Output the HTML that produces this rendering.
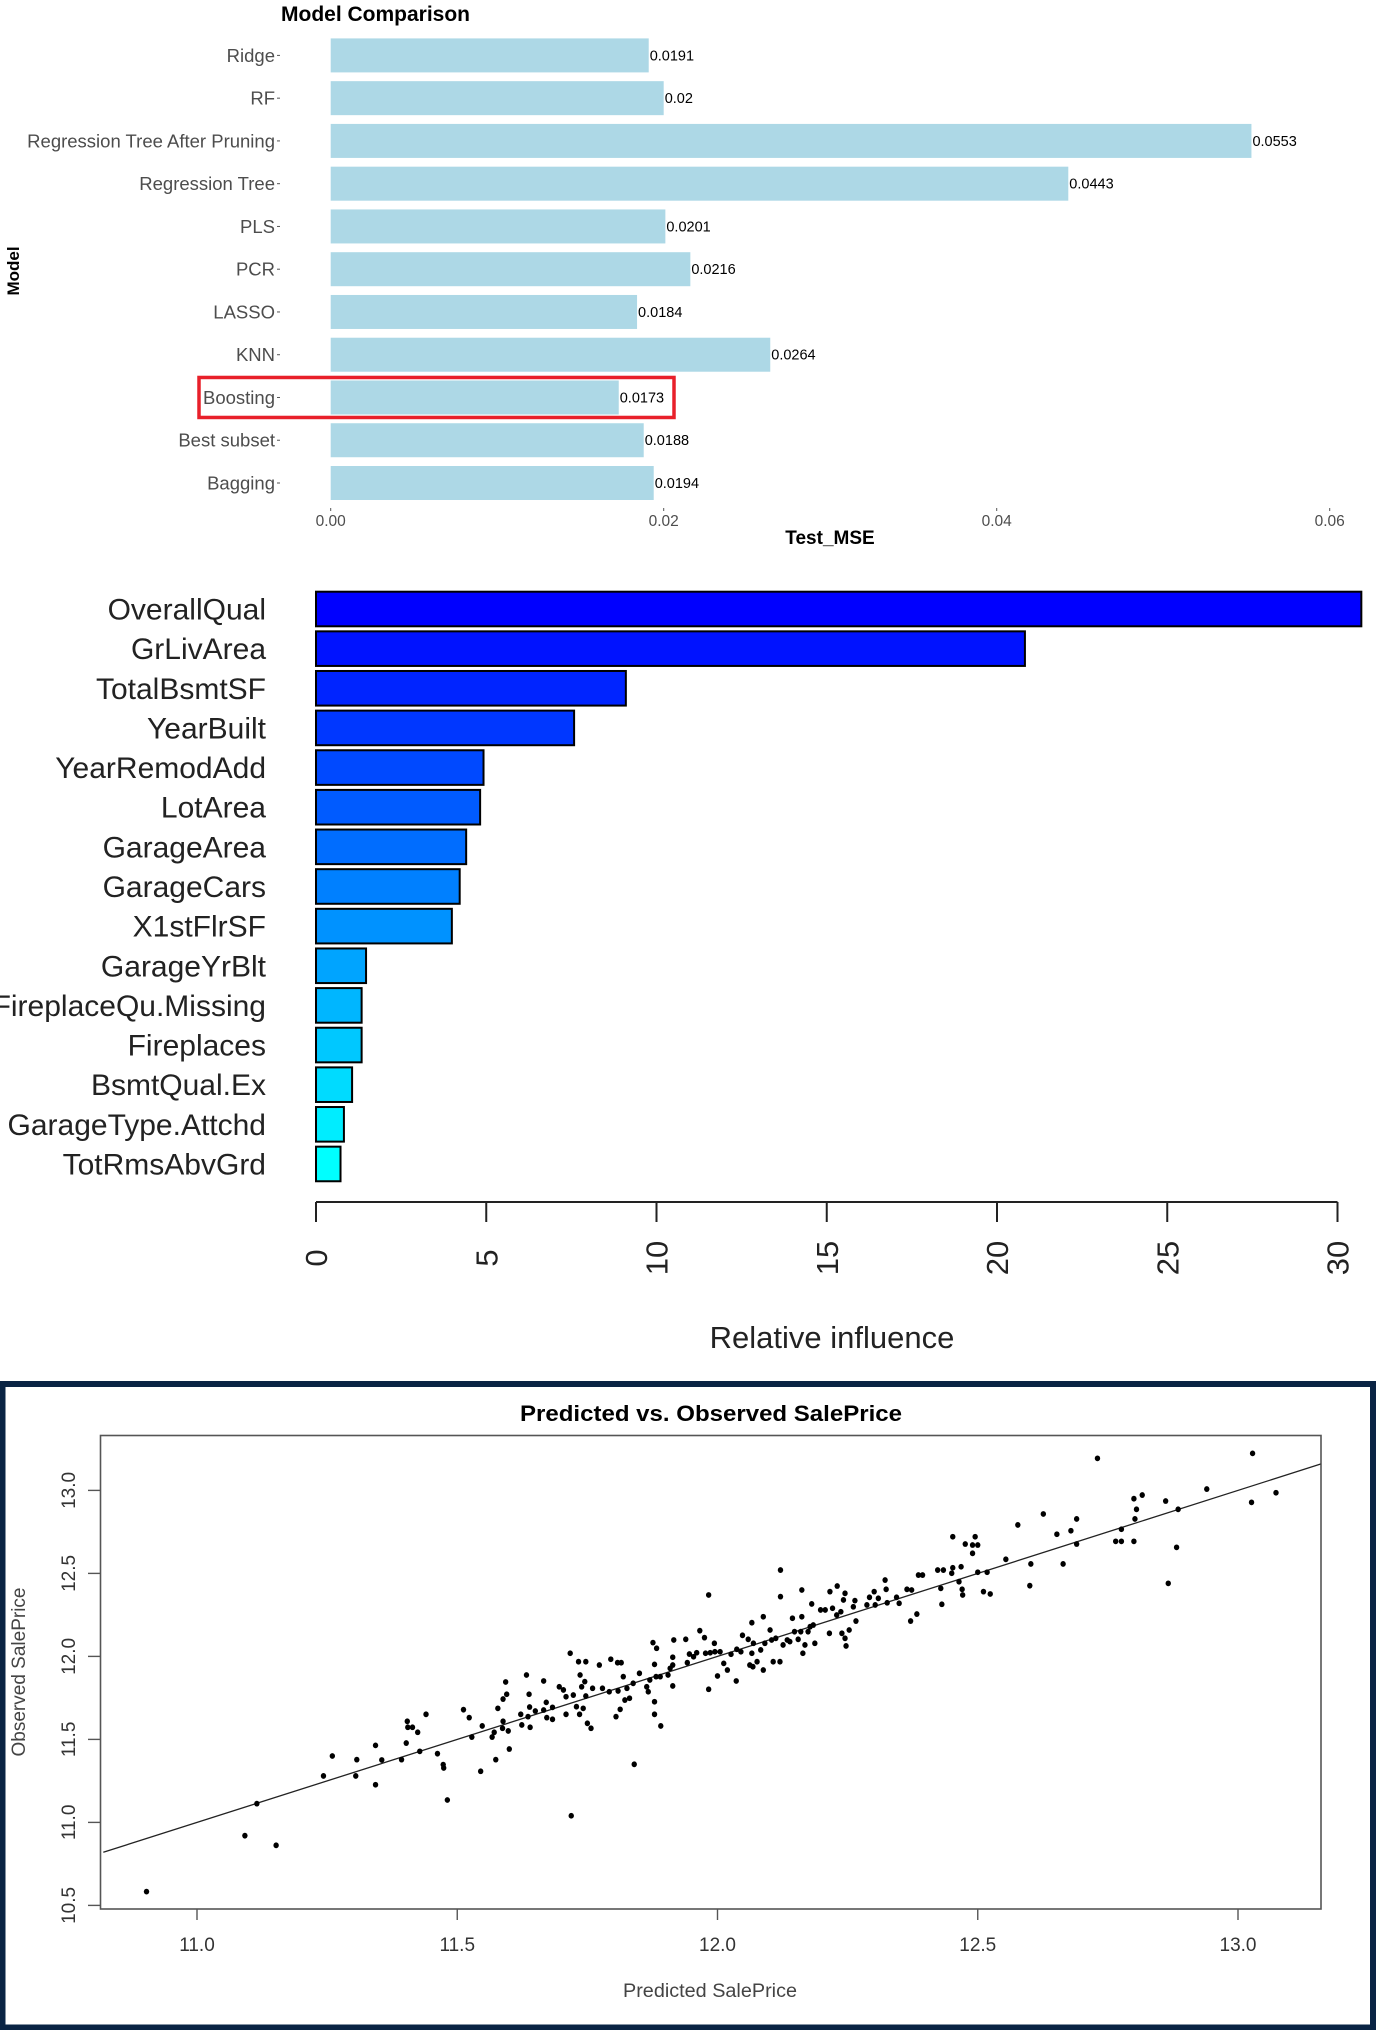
<!DOCTYPE html>
<html><head><meta charset="utf-8"><title>Model results</title>
<style>
html,body{margin:0;padding:0;background:#fff;}
svg{display:block;font-family:"Liberation Sans",Arial,sans-serif;}
</style></head>
<body>
<svg id="root" width="1376" height="2030" viewBox="0 0 1376 2030" xmlns="http://www.w3.org/2000/svg">
  <g id="top">
    <text x="281" y="21" font-size="21" font-weight="bold" fill="#000">Model Comparison</text>
    <text transform="translate(19,271) rotate(-90)" text-anchor="middle" font-size="17" font-weight="bold" fill="#000">Model</text>
    <text x="830" y="544" text-anchor="middle" font-size="19" font-weight="bold" fill="#000">Test_MSE</text>
  </g>
  <g id="mid">
    <text x="832" y="1348" text-anchor="middle" font-size="31" fill="#222">Relative influence</text>
  </g>
  <g id="bot">
    <rect x="2.5" y="1384" width="1370.5" height="643.5" fill="none" stroke="#0a2444" stroke-width="6"/>
    <rect x="100.5" y="1435.5" width="1220.5" height="473.5" fill="none" stroke="#555" stroke-width="1.6"/>
    <text x="711" y="1421" text-anchor="middle" font-size="22" font-weight="bold" fill="#000" textLength="382" lengthAdjust="spacingAndGlyphs">Predicted vs. Observed SalePrice</text>
    <text x="710" y="1997" text-anchor="middle" font-size="19" fill="#444" textLength="174" lengthAdjust="spacingAndGlyphs">Predicted SalePrice</text>
    <text transform="translate(25,1672) rotate(-90)" text-anchor="middle" font-size="19" fill="#444">Observed SalePrice</text>
  </g>
</svg>
<script>
const NS='http://www.w3.org/2000/svg';
// ---------- Chart 1 data ----------
const modelNames=['Ridge','RF','Regression Tree After Pruning','Regression Tree','PLS','PCR','LASSO','KNN','Boosting','Best subset','Bagging'];
const modelMSE=[0.0191,0.02,0.0553,0.0443,0.0201,0.0216,0.0184,0.0264,0.0173,0.0188,0.0194];
const mseLabels=['0.0191','0.02','0.0553','0.0443','0.0201','0.0216','0.0184','0.0264','0.0173','0.0188','0.0194'];
const mseTicks=[0,0.02,0.04,0.06];
const mseTickLabels=['0.00','0.02','0.04','0.06'];
// ---------- Chart 2 data ----------
const featNames=['OverallQual','GrLivArea','TotalBsmtSF','YearBuilt','YearRemodAdd','LotArea','GarageArea','GarageCars','X1stFlrSF','GarageYrBlt','FireplaceQu.Missing','Fireplaces','BsmtQual.Ex','GarageType.Attchd','TotRmsAbvGrd'];
const featInfluence=[30.7,20.82,9.10,7.58,4.92,4.82,4.41,4.22,3.99,1.47,1.34,1.34,1.06,0.82,0.72];
const infTicks=[0,5,10,15,20,25,30];
// ---------- Chart 3 data ----------
const predicted=[10.903,11.092,11.115,11.152,11.243,11.260,11.305,11.307,11.343,11.343,11.355,11.393,11.402,11.404,11.405,11.414,11.424,11.428,11.440,11.462,11.473,11.474,11.481,11.512,11.523,11.528,11.545,11.548,11.567,11.571,11.574,11.578,11.587,11.588,11.588,11.593,11.595,11.598,11.600,11.622,11.624,11.633,11.636,11.638,11.639,11.640,11.650,11.666,11.666,11.671,11.672,11.719,
11.683,11.683,11.696,11.704,11.709,11.709,11.717,11.723,11.729,11.733,11.736,11.735,11.739,11.742,11.745,11.747,11.747,11.750,11.757,11.760,11.773,11.779,11.792,11.795,11.805,11.808,11.809,11.813,11.815,11.819,11.822,11.826,11.831,11.838,11.840,11.850,11.864,11.867,11.870,11.876,11.879,11.879,11.879,11.882,11.883,11.890,11.891,11.905,11.909,11.914,11.914,11.914,11.916,11.939,11.942,11.946,11.954,11.960,11.966,11.975,11.977,11.983,11.983,11.986,11.994,11.995,12.000,12.005,12.012,12.019,12.026,12.036,12.037,12.045,12.048,12.059,12.062,12.066,12.066,12.068,12.069,12.076,12.083,12.088,12.088,12.091,12.101,12.104,12.107,12.112,12.120,12.121,12.121,12.126,12.134,12.139,12.144,12.148,12.155,12.160,12.162,12.162,12.164,12.168,12.174,12.178,12.181,12.184,12.187,12.198,12.207,12.215,12.216,12.221,12.229,12.230,12.237,12.239,12.242,12.245,12.245,12.247,12.253,12.261,12.264,12.266,12.287,12.292,12.301,12.303,12.309,12.322,12.324,12.326,12.344,12.349,12.364,12.371,12.373,12.383,12.386,12.394,12.423,12.429,12.431,12.434,
12.450,12.452,12.452,12.464,12.468,12.470,12.471,12.476,12.490,12.490,12.495,12.500,12.500,12.511,12.518,12.524,12.554,12.577,12.600,12.602,12.626,12.652,12.664,12.679,12.690,12.690,12.730,12.765,12.776,12.776,12.800,12.800,12.802,12.805,12.816,12.861,12.866,12.882,12.885,12.940,13.026,13.028,13.073];
const observed=[10.583,10.920,11.113,10.862,11.280,11.400,11.280,11.378,11.464,11.227,11.376,11.378,11.478,11.609,11.573,11.573,11.543,11.428,11.651,11.414,11.348,11.328,11.135,11.679,11.631,11.514,11.308,11.581,11.514,11.543,11.378,11.687,11.567,11.743,11.609,11.846,11.772,11.551,11.442,11.651,11.587,11.888,11.637,11.772,11.695,11.573,11.671,11.852,11.677,11.723,11.631,11.040,
11.693,11.621,11.817,11.798,11.757,11.651,12.019,11.767,11.697,11.968,11.888,11.651,11.817,11.687,11.848,11.968,11.761,11.597,11.567,11.808,11.948,11.808,11.787,11.983,11.637,11.962,11.792,11.681,11.962,11.878,11.737,11.808,11.748,11.838,11.350,11.898,11.817,11.787,11.858,12.083,11.952,11.727,11.651,11.878,12.049,11.878,11.581,11.888,11.928,11.995,11.948,11.822,12.099,12.103,11.962,12.014,11.998,12.022,12.155,12.113,12.019,12.370,11.802,12.022,12.079,12.028,11.882,12.028,11.958,11.918,12.013,11.852,12.043,12.028,12.127,12.103,11.948,12.203,12.019,11.938,12.079,11.968,12.039,12.239,11.918,12.079,12.159,12.099,11.968,12.109,11.968,12.520,12.360,12.069,12.099,12.089,12.230,12.149,12.103,12.149,12.400,12.239,12.019,12.069,12.149,12.179,12.316,12.189,12.079,12.280,12.280,12.139,12.390,12.290,12.249,12.424,12.269,12.139,12.340,12.380,12.109,12.063,12.159,12.299,12.336,12.213,12.310,12.356,12.390,12.310,12.350,12.460,12.404,12.323,12.356,12.320,12.404,12.213,12.400,12.255,12.490,12.490,12.520,12.410,12.314,12.520,
12.501,12.721,12.534,12.450,12.540,12.404,12.370,12.677,12.671,12.621,12.721,12.671,12.507,12.390,12.507,12.376,12.585,12.792,12.426,12.557,12.858,12.736,12.557,12.757,12.828,12.677,13.193,12.693,12.766,12.693,12.950,12.693,12.828,12.886,12.972,12.936,12.440,12.657,12.886,13.008,12.928,13.223,12.986];
const fitLine=[0.0,1.0]; // intercept, slope
const xTicks=[11.0,11.5,12.0,12.5,13.0];
const xTickLabels=['11.0','11.5','12.0','12.5','13.0'];
const yTicks=[10.5,11.0,11.5,12.0,12.5,13.0];
const yTickLabels=['10.5','11.0','11.5','12.0','12.5','13.0'];

function mk(tag,attrs,parent,text){const e=document.createElementNS(NS,tag);for(const k in attrs)e.setAttribute(k,attrs[k]);if(text!==undefined)e.textContent=text;parent.appendChild(e);return e;}

// ---------- Chart 1 ----------
(function(){
  const g=document.getElementById('top');
  const x=v=>330.7+v*16650;
  const rowY=i=>55.4+i*42.76;
  const bh=34;
  modelNames.forEach((n,i)=>{
    const cy=rowY(i);
    const r=mk('rect',{x:x(0),y:cy-bh/2,width:x(modelMSE[i])-x(0),height:bh,fill:'#add8e6'},g);
    
    
    const l=mk('text',{x:275,y:cy+6.5,'text-anchor':'end','font-size':'18.5',fill:'#4d4d4d'},g,n);
    
    
    const tk=mk('line',{x1:277,x2:280,y1:cy,y2:cy,stroke:'#555','stroke-width':1},g);
    
    
    const v=mk('text',{x:x(modelMSE[i])+1,y:cy+5,'font-size':'14.5',fill:'#000'},g,mseLabels[i]);
    
    
  });
  mseTicks.forEach((t,i)=>{
    const tk=mk('line',{x1:x(t),x2:x(t),y1:508,y2:511,stroke:'#555','stroke-width':1},g);
    
    
    const l=mk('text',{x:x(t),y:526,'text-anchor':'middle','font-size':'15.5',fill:'#4d4d4d'},g,mseTickLabels[i]);
    
    
  });
  const bi=modelNames.indexOf('Boosting');
  const cy=rowY(bi);
  const box=mk('rect',{x:199,y:cy-20,width:475,height:40,fill:'none',stroke:'#e8202a','stroke-width':3.5},g);
  
  
})();

// ---------- Chart 2 ----------
(function(){
  const g=document.getElementById('mid');
  const x=v=>316+v*34.05;
  const rowY=i=>609+i*39.64;
  const bh=34.6;
  const n=featNames.length;
  featNames.forEach((f,i)=>{
    const cy=rowY(i);
    const hue=240-60*i/(n-1);
    const r=mk('rect',{x:x(0),y:cy-bh/2,width:x(featInfluence[i])-x(0),height:bh,fill:'hsl('+hue+',100%,50%)',stroke:'#000','stroke-width':2},g);
    
    
    const l=mk('text',{x:266,y:cy+10.5,'text-anchor':'end','font-size':'30',fill:'#222'},g,f);
    
    
  });
  const ax=mk('line',{x1:x(infTicks[0]),x2:x(infTicks[infTicks.length-1]),y1:1202,y2:1202,stroke:'#222','stroke-width':2},g);
  
  
  infTicks.forEach(t=>{
    const tk=mk('line',{x1:x(t),x2:x(t),y1:1202,y2:1222,stroke:'#222','stroke-width':2},g);
    
    
    const l=mk('text',{transform:'translate('+(x(t)+11)+',1258) rotate(-90)','text-anchor':'middle','font-size':'31',fill:'#222'},g,String(t));
    
    
  });
})();

// ---------- Chart 3 ----------
(function(){
  const g=document.getElementById('bot');
  const x=v=>197+(v-11)*520.5;
  const y=v=>1905.4-(v-10.5)*166;
  const clip=mk('clipPath',{id:'pclip'},g);
  mk('rect',{x:101,y:1436,width:1219.5,height:472.5},clip);
  const x0=10.82,x1=13.16;
  const ln=mk('line',{x1:x(x0),y1:y(fitLine[0]+fitLine[1]*x0),x2:x(x1),y2:y(fitLine[0]+fitLine[1]*x1),stroke:'#222','stroke-width':1.3,'clip-path':'url(#pclip)'},g);
  
  
  predicted.forEach((p,i)=>{
    const c=mk('ellipse',{cx:x(p),cy:y(observed[i]),rx:2.7,ry:2.9,fill:'#000'},g);
    
    
  });
  xTicks.forEach((t,i)=>{
    const tk=mk('line',{x1:x(t),x2:x(t),y1:1909,y2:1920,stroke:'#555','stroke-width':1.4},g);
    
    
    const l=mk('text',{x:x(t),y:1951,'text-anchor':'middle','font-size':'19',fill:'#333'},g,xTickLabels[i]);
    
    
  });
  yTicks.forEach((t,i)=>{
    const tk=mk('line',{x1:88,x2:100,y1:y(t),y2:y(t),stroke:'#555','stroke-width':1.4},g);
    
    
    const l=mk('text',{transform:'translate(75,'+y(t)+') rotate(-90)','text-anchor':'middle','font-size':'19',fill:'#333'},g,yTickLabels[i]);
    
    
  });
})();
</script>
</body></html>
